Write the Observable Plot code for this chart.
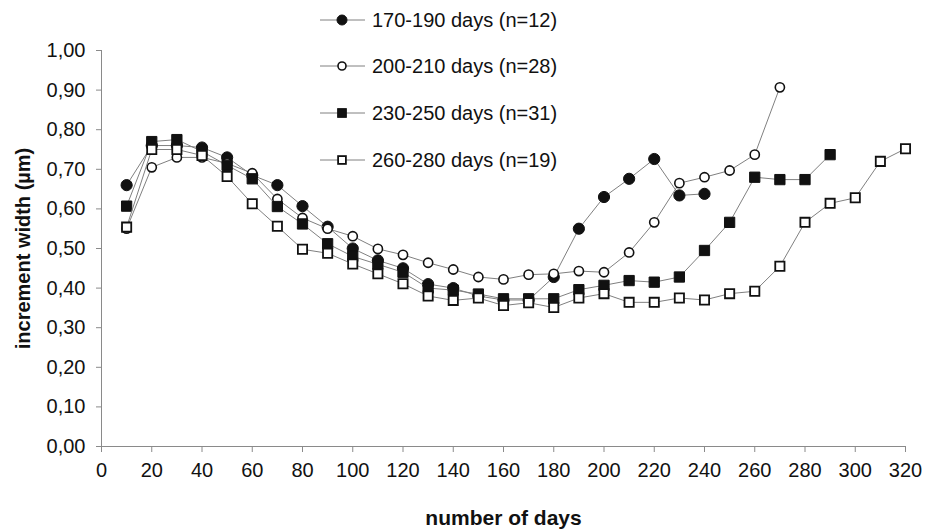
<!DOCTYPE html>
<html>
<head>
<meta charset="utf-8">
<script src="https://cdn.jsdelivr.net/npm/d3@7"></script>
<script src="https://cdn.jsdelivr.net/npm/@observablehq/plot@0.6"></script>
<style>
  html, body { margin: 0; padding: 0; background: #fff; }
  #chart { width: 925px; height: 531px; }
  svg { font-family: "Liberation Sans", Arial, sans-serif; }
</style>
</head>
<body>
<div id="chart"></div>
<script>
const seriesNames = ["170-190 days (n=12)", "200-210 days (n=28)", "230-250 days (n=31)", "260-280 days (n=19)"];

const daysA = [10,20,30,40,50,60,70,80,90,100,110,120,130,140,150,160,170,180,190,200,210,220,230,240];
const valsA = [0.66,0.76,0.76,0.755,0.73,0.685,0.66,0.607,0.555,0.50,0.47,0.45,0.41,0.40,0.38,0.37,0.37,0.428,0.55,0.63,0.676,0.726,0.634,0.638];

const daysB = [10,20,30,40,50,60,70,80,90,100,110,120,130,140,150,160,170,180,190,200,210,220,230,240,250,260,270];
const valsB = [0.55,0.705,0.73,0.73,0.715,0.69,0.625,0.577,0.55,0.531,0.499,0.484,0.464,0.447,0.428,0.422,0.434,0.436,0.443,0.44,0.49,0.566,0.665,0.68,0.697,0.737,0.907];

const daysC = [10,20,30,40,50,60,70,80,90,100,110,120,130,140,150,160,170,180,190,200,210,220,230,240,250,260,270,280,290];
const valsC = [0.607,0.77,0.775,0.745,0.71,0.676,0.606,0.562,0.512,0.48,0.46,0.44,0.40,0.395,0.385,0.373,0.373,0.373,0.396,0.407,0.419,0.415,0.428,0.495,0.566,0.68,0.674,0.674,0.737];

const daysD = [10,20,30,40,50,60,70,80,90,100,110,120,130,140,150,160,170,180,190,200,210,220,230,240,250,260,270,280,290,300,310,320];
const valsD = [0.554,0.75,0.75,0.735,0.682,0.613,0.556,0.498,0.488,0.461,0.436,0.411,0.38,0.369,0.375,0.356,0.363,0.351,0.375,0.386,0.364,0.364,0.375,0.37,0.386,0.392,0.455,0.566,0.614,0.628,0.72,0.752];

const xTicks = [0,20,40,60,80,100,120,140,160,180,200,220,240,260,280,300,320];
const yTicks = [0,0.1,0.2,0.3,0.4,0.5,0.6,0.7,0.8,0.9,1.0];

const styles = [
  {symbol: "circle", fill: "#111", stroke: "#111", r: 5.6, sw: 1},
  {symbol: "circle", fill: "#fff", stroke: "#111", r: 4.6, sw: 1.6},
  {symbol: "square", fill: "#111", stroke: "#111", r: 5.8, sw: 1},
  {symbol: "square", fill: "#fff", stroke: "#111", r: 5.2, sw: 1.8}
];

const allDays = [daysA, daysB, daysC, daysD];
const allVals = [valsA, valsB, valsC, valsD];
const tables = allDays.map((ds, i) => ds.map((d, j) => ({day: d, value: allVals[i][j], series: seriesNames[i]})));

const fmt = v => v.toFixed(2).replace(".", ",");

const marks = [
  Plot.ruleY([0], {stroke: "#8a8a8a", strokeWidth: 1}),
  Plot.ruleX([0], {stroke: "#8a8a8a", strokeWidth: 1}),
  Plot.axisX({ticks: xTicks, tickSize: 6, tickPadding: 10, fontSize: 20, stroke: "#8a8a8a", color: "#111",
    label: "number of days", labelAnchor: "center", labelArrow: "none", labelOffset: 78}),
  Plot.axisY({ticks: yTicks, tickSize: 5, tickPadding: 11, fontSize: 20, tickFormat: fmt, stroke: "#8a8a8a", color: "#111",
    label: "increment width (µm)", labelAnchor: "center", labelArrow: "none", labelOffset: 86})
];
tables.forEach((t, i) => {
  const s = styles[i];
  marks.push(Plot.line(t, {x: "day", y: "value", stroke: "#808080", strokeWidth: 1}));
  marks.push(Plot.dot(t, {x: "day", y: "value", symbol: () => s.symbol, r: s.r, fill: s.fill, stroke: s.stroke, strokeWidth: s.sw}));
});

const chart = Plot.plot({
  width: 925,
  height: 531,
  marginLeft: 101,
  marginRight: 20,
  marginTop: 50,
  marginBottom: 85,
  style: {fontFamily: "'Liberation Sans', Arial, sans-serif", background: "#fff", color: "#111"},
  x: {domain: [0, 320]},
  y: {domain: [0, 1]},
  symbol: {domain: ["circle", "square"], range: ["circle", "square"]},
  marks
});

document.getElementById("chart").appendChild(chart);

// bold axis labels
const svg = d3.select(chart);
svg.selectAll("[aria-label='x-axis label'] text")
  .style("font-weight", "bold").style("font-size", "21px");
svg.selectAll("[aria-label='y-axis label'] text")
  .style("font-weight", "bold").style("font-size", "20px");

// legend (inside the chart, top centre)
const leg = svg.append("g").attr("class", "legend").attr("text-anchor", "start");
const rowsY = [20, 66, 113, 160];
seriesNames.forEach((name, i) => {
  const s = styles[i];
  const y = rowsY[i];
  leg.append("line").attr("x1", 320).attr("x2", 365).attr("y1", y).attr("y2", y)
    .attr("stroke", "#808080").attr("stroke-width", 1);
  if (s.symbol === "circle") {
    leg.append("circle").attr("cx", 342).attr("cy", y).attr("r", s.r - 0.6)
      .attr("fill", s.fill).attr("stroke", s.stroke).attr("stroke-width", s.sw);
  } else {
    const side = s.r * 1.5;
    leg.append("rect").attr("x", 342 - side / 2).attr("y", y - side / 2).attr("width", side).attr("height", side)
      .attr("fill", s.fill).attr("stroke", s.stroke).attr("stroke-width", s.sw);
  }
  leg.append("text").attr("x", 372).attr("y", y).attr("dy", "0.35em").attr("text-anchor", "start")
    .attr("font-size", 20).attr("fill", "#111").text(name);
});
</script>
</body>
</html>
